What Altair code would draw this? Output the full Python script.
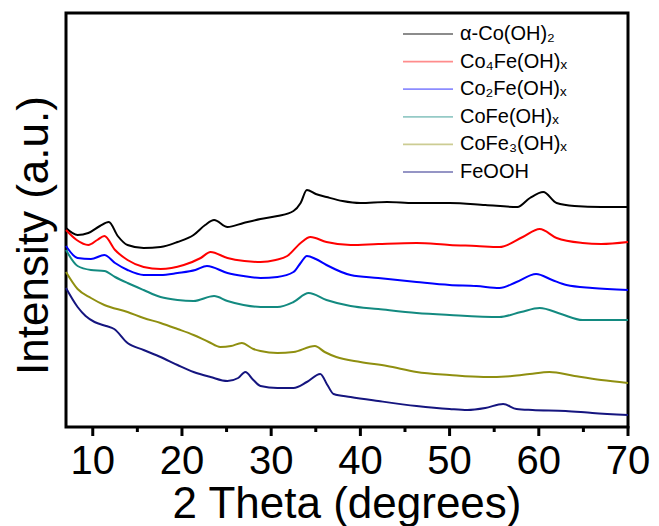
import altair as alt
import pandas as pd

# ---- data (2θ in degrees, intensity in a.u.) ----
names = ["α-Co(OH)₂", "Co₄Fe(OH)ₓ", "Co₂Fe(OH)ₓ", "CoFe(OH)ₓ", "CoFe₃(OH)ₓ", "FeOOH"]
colors = ["#000000", "#ff0000", "#0000ff", "#138a80", "#8f8f10", "#15157f"]
major_ticks = [10, 20, 30, 40, 50, 60, 70]
minor_ticks = [15, 25, 35, 45, 55, 65]

x_black = [7.0, 8.3, 9.5, 10.8, 11.8, 12.8, 13.9, 15.7, 17.6, 19.5, 21.3, 22.6, 23.6, 25.1, 26.9,
           28.8, 30.7, 32.5, 33.3, 34.0, 35.0, 36.2, 38.0, 40.0, 43.0, 46.0, 50.0, 54.0, 57.6,
           59.0, 60.5, 62.0, 64.0, 67.0, 70.0]
y_black = [199, 192, 194, 201, 205, 191, 182, 179, 180, 185, 192, 202, 207, 200, 204,
           208, 211, 216, 224, 237, 233, 230, 226, 224, 225, 224, 224, 222, 220,
           229, 235, 224, 221, 220, 220]

x_red = [7.0, 8.2, 9.5, 10.5, 11.3, 12.5, 13.9, 15.7, 17.6, 20.2, 22.1, 23.2, 25.1, 27.0, 28.8,
         30.5, 31.8, 33.3, 34.4, 36.2, 38.9, 42.0, 46.3, 50.0, 53.0, 55.6, 58.2, 60.1, 62.0,
         64.9, 67.0, 70.0]
y_red = [197, 187, 182, 187, 191, 177, 167, 160, 158, 162, 169, 175, 169, 166, 165,
         167, 171, 184, 190, 185, 182, 183, 184, 182, 181, 180, 190, 198, 189,
         184, 183, 185]

x_blue = [7.0, 8.3, 9.8, 11.3, 12.5, 13.9, 15.7, 17.6, 19.5, 21.5, 22.8, 25.1, 26.9, 28.8, 30.7,
          32.5, 33.3, 34.0, 35.0, 36.2, 38.9, 42.0, 46.3, 50.0, 53.0, 55.6, 57.5, 59.7, 61.5,
          63.1, 66.0, 70.0]
y_blue = [181, 169, 168, 172, 164, 157, 152, 152, 154, 157, 161, 154, 151, 149, 150,
          155, 164, 171, 168, 162, 152, 149, 145, 142, 141, 139, 145, 153, 147,
          142, 139, 137]

x_teal = [7.0, 8.3, 9.8, 11.3, 12.5, 13.9, 15.7, 17.6, 19.5, 21.3, 23.6, 25.1, 26.9, 28.8, 30.7,
          32.5, 34.2, 36.2, 38.9, 42.0, 46.3, 50.0, 55.6, 58.0, 60.1, 62.5, 64.9, 67.0, 70.0]
y_teal = [177, 161, 157, 156, 150, 144, 137, 130, 127, 126, 131, 126, 122, 120, 120,
          125, 134, 127, 121, 118, 114, 112, 110, 115, 119, 113, 107, 107, 107]

x_olive = [7.0, 8.3, 9.8, 11.3, 13.9, 15.7, 17.6, 19.5, 21.3, 23.0, 24.3, 25.5, 26.7, 28.0, 28.8,
           30.7, 32.5, 34.9, 36.0, 37.3, 40.0, 43.0, 46.3, 50.0, 53.8, 57.0, 59.0, 61.2, 64.0,
           67.0, 70.0]
y_olive = [155, 138, 129, 122, 115, 109, 104, 98, 92, 85, 80, 81, 84, 78, 76,
           74, 75, 81, 75, 70, 65, 61, 55, 52, 50, 51, 53, 55, 51,
           47, 44]

x_navy = [7.0, 8.3, 9.2, 10.2, 11.5, 12.4, 13.9, 15.7, 17.6, 19.5, 21.3, 23.2, 25.1, 26.3, 27.1,
          28.0, 28.8, 30.7, 32.5, 34.0, 35.5, 36.3, 37.0, 38.9, 42.0, 46.3, 50.0, 52.0, 54.0,
          56.0, 57.5, 59.3, 63.0, 66.0, 70.0]
y_navy = [139, 120, 111, 105, 101, 98, 84, 77, 70, 62, 55, 50, 46, 49, 55,
          47, 41, 39, 39, 45, 53, 42, 33, 30, 26, 21, 18, 17, 19,
          23, 18, 17, 16, 14, 12]

xs = [x_black, x_red, x_blue, x_teal, x_olive, x_navy]
ys = [y_black, y_red, y_blue, y_teal, y_olive, y_navy]

rows = []
for k, (n, xv, yv) in enumerate(zip(names, xs, ys)):
    for a, b in zip(xv, yv):
        rows.append({"name": n, "order": k, "theta": a, "intensity": b})
df = pd.DataFrame(rows)
leg = pd.DataFrame({"name": names, "idx": list(range(len(names)))})
major_df = pd.DataFrame({"theta": major_ticks})
minor_df = pd.DataFrame({"theta": minor_ticks})

FONT = "Liberation Sans"
cscale = alt.Scale(domain=names, range=colors)
xscale = alt.Scale(domain=[7, 70], nice=False, zero=False)

lines = alt.Chart(df).mark_line(strokeWidth=2, interpolate="monotone").encode(
    x=alt.X("theta:Q", scale=xscale, axis=None),
    y=alt.Y("intensity:Q",
            scale=alt.Scale(domain=[0, 414], nice=False, zero=False),
            axis=alt.Axis(title="Intensity (a.u.)", labels=False, ticks=False,
                          domain=False, grid=False, titleFont=FONT, titleFontSize=44,
                          titleFontWeight="normal", titleColor="black",
                          titlePadding=10, titleY=222)),
    color=alt.Color("name:N", scale=cscale, legend=None),
    detail="order:N",
)

# bottom axis drawn from the tick lists: outward ticks, labels and title
major_marks = alt.Chart(major_df).mark_tick(
    orient="vertical", color="black", thickness=3, size=10, opacity=1).encode(
    x=alt.X("theta:Q", scale=xscale, axis=None),
    y=alt.value(418),
)
minor_marks = alt.Chart(minor_df).mark_tick(
    orient="vertical", color="black", thickness=3, size=6, opacity=1).encode(
    x=alt.X("theta:Q", scale=xscale, axis=None),
    y=alt.value(416),
)
tick_labels = alt.Chart(major_df).mark_text(
    font=FONT, fontSize=40, color="black", baseline="alphabetic", align="center").encode(
    x=alt.X("theta:Q", scale=xscale, axis=None),
    y=alt.value(461),
    text=alt.Text("theta:Q", format="d"),
)
x_title = alt.Chart(pd.DataFrame({"t": ["2 Theta (degrees)"]})).mark_text(
    font=FONT, fontSize=44, color="black", baseline="alphabetic", align="center").encode(
    x=alt.value(281), y=alt.value(505), text="t:N",
)

leg_rules = alt.Chart(leg).transform_calculate(
    ly="21 + 27.6 * datum.idx"
).mark_rule(strokeWidth=1.8, opacity=0.45).encode(
    x=alt.value(337), x2=alt.value(387),
    y=alt.Y("ly:Q", scale=None, axis=None),
    color=alt.Color("name:N", scale=cscale, legend=None),
)

leg_text = alt.Chart(leg).transform_calculate(
    ly="21 + 27.6 * datum.idx"
).mark_text(align="left", baseline="middle", font=FONT, fontSize=20, color="black").encode(
    x=alt.value(394),
    y=alt.Y("ly:Q", scale=None, axis=None),
    text="name:N",
)

chart = alt.layer(lines, major_marks, minor_marks, tick_labels, x_title,
                  leg_rules, leg_text).resolve_scale(
    y="independent"
).properties(
    width=562, height=414,
    background="white",
    autosize=alt.AutoSizeParams(type="none"),
    padding={"left": 66, "top": 13, "right": 31, "bottom": 99},
).configure_view(stroke="black", strokeWidth=3)

chart.save("out.html", embed_options={"renderer": "svg", "actions": False})
